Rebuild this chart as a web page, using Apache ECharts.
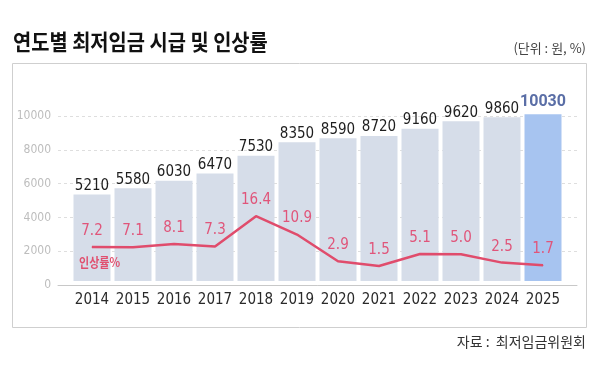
<!DOCTYPE html>
<html>
<head>
<meta charset="utf-8">
<script src="https://cdn.jsdelivr.net/npm/echarts@6/dist/echarts.min.js"></script>
<style>
html,body{margin:0;padding:0;background:#fff;}
#c{width:600px;height:368px;}
</style>
</head>
<body>
<div id="c"></div>
<script>
const years = ['2014','2015','2016','2017','2018','2019','2020','2021','2022','2023','2024','2025'];
const wages = [5210,5580,6030,6470,7530,8350,8590,8720,9160,9620,9860,10030];
const rates = [7.2,7.1,8.1,7.3,16.4,10.9,2.9,1.5,5.1,5.0,2.5,1.7];
const yTicks = [0,2000,4000,6000,8000,10000];

const NARROW = '"Liberation Sans Narrow","DejaVu Sans Condensed","Roboto","Noto Sans CJK KR",sans-serif';
const KR = '"Noto Sans CJK KR","Noto Sans",sans-serif';
const lastIdx = wages.length - 1;

const chart = echarts.init(document.getElementById('c'), null, {renderer:'canvas'});
chart.setOption({
  animation:false,
  backgroundColor:'#fff',
  graphic:[
    {type:'rect', shape:{x:12.5,y:63.5,width:574,height:264}, style:{fill:'none',stroke:'#cfcfcf',lineWidth:1}, z:-10},
    {type:'text', x:13, y:42, scaleX:0.9, style:{text:'연도별 최저임금 시급 및 인상률', font:'bold 22px '+KR, fill:'#111', textVerticalAlign:'middle'}},
    {type:'text', x:586, y:48, style:{text:'(단위 : 원, %)', font:'13px '+KR, fill:'#444', textAlign:'right', textVerticalAlign:'middle'}},
    {type:'text', x:586, y:342, style:{text:'자료 :  최저임금위원회', font:'14px '+KR, fill:'#333', textAlign:'right', textVerticalAlign:'middle'}},
    {type:'text', x:79, y:262, scaleX:0.85, z:100, zlevel:0, style:{text:'인상률%', font:'bold 13px '+KR, fill:'#e0506f', textVerticalAlign:'middle'}}
  ],
  grid:[
    {left:58, right:23, top:116, bottom:83},
    {left:71.5, right:36.5, top:98.2, bottom:87}
  ],
  xAxis:[
    {type:'value', gridIndex:0, min:0, max:1, axisLabel:{show:false}, axisTick:{show:false}, splitLine:{show:false},
     axisLine:{show:true, onZero:false, lineStyle:{color:'#c8c8c8', width:1}}},
    {type:'category', gridIndex:1, data:years, boundaryGap:true, axisLine:{show:false}, axisTick:{show:false},
     axisLabel:{interval:0, color:'#2a2a2a', fontSize:15, fontFamily:NARROW, margin:12}}
  ],
  yAxis:[
    {type:'value', gridIndex:0, min:yTicks[0], max:yTicks[yTicks.length-1], interval:2000,
     axisLine:{show:false}, axisTick:{show:false},
     axisLabel:{color:'#bdbdbd', fontSize:12, fontFamily:NARROW, margin:7, formatter:v=>String(v)},
     splitLine:{show:true, lineStyle:{color:'#dedede', type:[3,3], width:1}}},
    {type:'value', gridIndex:1, min:0, max:11000, show:false, splitLine:{show:false}},
    {type:'value', gridIndex:1, min:-3, max:51.7, show:false, splitLine:{show:false}}
  ],
  series:[
    {type:'bar', xAxisIndex:1, yAxisIndex:1, barWidth:37,
     data: wages.map((v,i)=> i===lastIdx ? {
        value:v, itemStyle:{color:'#a7c4f0'},
        label:{color:'#5a6ea6', fontWeight:'bold', fontSize:16, fontFamily:'Roboto,"Noto Sans",sans-serif', distance:4}
      } : v),
     itemStyle:{color:'#d6dde9'},
     label:{show:true, position:'top', distance:1, color:'#1e1e1e', fontSize:15, fontFamily:NARROW},
     z:2},
    {type:'line', xAxisIndex:1, yAxisIndex:2, data:rates, symbol:'circle', symbolSize:1, showSymbol:true,
     itemStyle:{color:'#e04c6c'},
     lineStyle:{color:'#e04c6c', width:2.5},
     label:{show:true, position:'top', distance:8, color:'#e0557a', fontSize:15, fontFamily:NARROW,
            formatter:p=>p.value.toFixed(1)},
     z:5}
  ]
});
</script>
</body>
</html>
